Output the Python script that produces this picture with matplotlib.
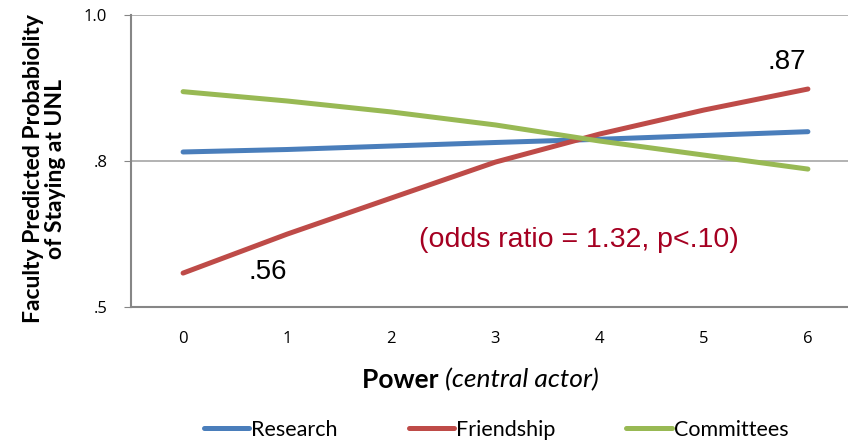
import matplotlib
matplotlib.use("Agg")
import matplotlib.pyplot as plt

# values, in axis units (.5 -> 0, .8 -> 1, 1.0 -> 2)
power = [0, 1, 2, 3, 4, 5, 6]
research = [1.062, 1.079, 1.103, 1.127, 1.149, 1.175, 1.201]
friendship = [0.233, 0.500, 0.747, 0.993, 1.185, 1.349, 1.493]
committees = [1.475, 1.411, 1.336, 1.247, 1.137, 1.041, 0.945]

y_ticks = [0, 1, 2]
y_ticklabels = ['.5', '.8', '1.0']

fig = plt.figure(figsize=(8.48, 4.4), dpi=100)
ax = fig.add_axes([0.1545, 0.302, 0.8455, 0.664])

ax.plot(power, research, color='#4A7EBB', lw=3.6, label='Research', solid_capstyle='round')
ax.plot(power, friendship, color='#BE4B48', lw=3.6, label='Friendship', solid_capstyle='round')
ax.plot(power, committees, color='#98B954', lw=3.6, label='Committees', solid_capstyle='round')

ax.set_xlim(-0.5, 6.385)
ax.set_ylim(0, 2)
ax.set_xticks(power)
ax.set_xticklabels([str(p) for p in power], family='Open Sans', fontsize=12)
ax.set_yticks(y_ticks)
ax.set_yticklabels(y_ticklabels, family='Open Sans', fontsize=12)
ax.tick_params(axis='x', length=0, pad=17)
ax.tick_params(axis='y', length=5, color='#868686', direction='out', pad=12)

for s in ['top', 'right']:
    ax.spines[s].set_visible(False)
for s in ['left', 'bottom']:
    ax.spines[s].set_color('#868686')
    ax.spines[s].set_linewidth(1.5)
ax.yaxis.grid(True, color='#A6A6A6', lw=1.2)
ax.set_axisbelow(True)

# annotations
ax.text(0.81, 0.24, '.56', fontsize=20, family='Liberation Sans', ha='center', va='center')
ax.text(5.8, 1.678, '.87', fontsize=20, family='Liberation Sans', ha='center', va='center')
ax.text(3.8, 0.459, '(odds ratio = 1.32, p<.10)', fontsize=20.5, family='Liberation Sans',
        color='#A50021', ha='center', va='center')

# y label
fig.text(0.052, 0.616, 'Faculty Predicted Probabiolity\nof Staying at UNL', rotation=90,
         ha='center', va='center', multialignment='center', fontsize=16.5,
         fontweight='bold', family='Lato', linespacing=1.05)

# x label: bold + italic parts
t1 = fig.text(362 / 848, 1 - 380 / 440, 'Power ', fontsize=19, fontweight='bold',
              family='Lato', ha='left', va='center')
fig.canvas.draw()
bb = t1.get_window_extent()
fig.text(bb.x1 / fig.bbox.width, 1 - 380 / 440, '(central actor)', fontsize=19,
         style='italic', family='Lato', ha='left', va='center')

fig.legend(loc='center', bbox_to_anchor=(0.585, 1 - 430 / 440), ncol=3, frameon=False,
           prop={'family': 'Lato', 'size': 15.5}, handlelength=2.1, handletextpad=0.1,
           columnspacing=3.3)

plt.savefig('out.png', dpi=100)
